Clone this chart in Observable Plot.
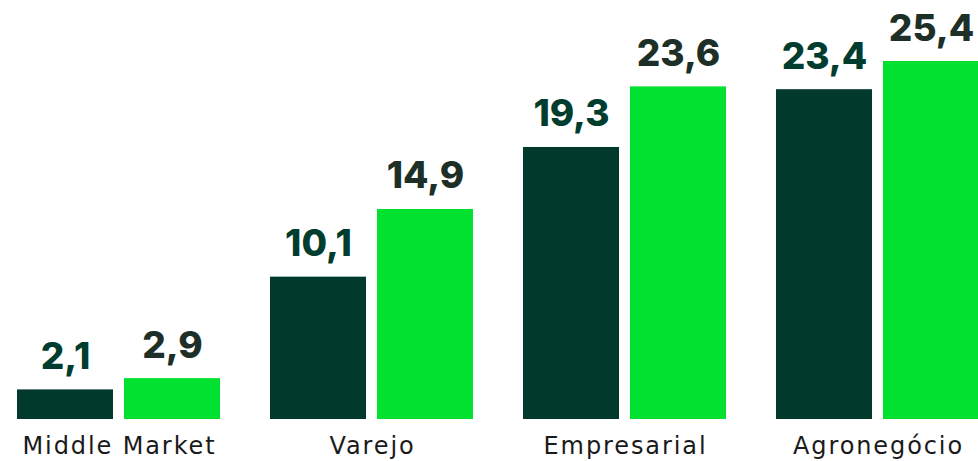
<!DOCTYPE html>
<html>
<head>
<meta charset="utf-8">
<script src="https://cdn.jsdelivr.net/npm/d3@7"></script>
<script src="https://cdn.jsdelivr.net/npm/@observablehq/plot@0.6"></script>
<style>
  html, body { margin: 0; padding: 0; background: #fff; }
  #chart svg { display: block; }
  #chart g[aria-label="fx-axis tick label"] text { letter-spacing: 1.9px; }
</style>
</head>
<body>
<div id="chart"></div>
<script>
const categories = ["Middle Market", "Varejo", "Empresarial", "Agronegócio"];
const series = ["A", "B"];
const valuesA = [2.1, 10.1, 19.3, 23.4];
const valuesB = [2.9, 14.9, 23.6, 25.4];
const labelsA = ["2,1", "10,1", "19,3", "23,4"];
const labelsB = ["2,9", "14,9", "23,6", "25,4"];

const data = [];
categories.forEach((c, i) => {
  data.push({cat: c, s: series[0], v: valuesA[i], label: labelsA[i]});
  data.push({cat: c, s: series[1], v: valuesB[i], label: labelsB[i]});
});

const chart = Plot.plot({
  width: 978,
  height: 461,
  marginTop: 61,
  marginBottom: 42,
  marginLeft: 17,
  marginRight: -2,
  fx: {domain: categories, paddingInner: 0.195, paddingOuter: 0, label: null},
  x: {domain: series, paddingInner: 0.1, paddingOuter: 0, axis: null},
  y: {domain: [0, 25.4], axis: null},
  color: {domain: series, range: ["#013a2d", "#00e22f"]},
  style: {background: "#fff"},
  marks: [
    Plot.barY(data, {fx: "cat", x: "s", y: "v", fill: "s"}),
    Plot.text(data, {
      fx: "cat", x: "s", y: "v", text: "label",
      lineAnchor: "bottom", dy: -21,
      fill: d => d.s === "A" ? "#003d2e" : "#1d2f27",
      fontSize: 37, fontWeight: 800, fontFamily: "Inter"
    }),
    Plot.axisFx({
      anchor: "bottom", tickSize: 0, tickPadding: 17, label: null,
      fontSize: 24, fontFamily: "DejaVu Sans", fill: "#1a1a1a"
    })
  ]
});
document.getElementById("chart").appendChild(chart);
</script>
</body>
</html>
